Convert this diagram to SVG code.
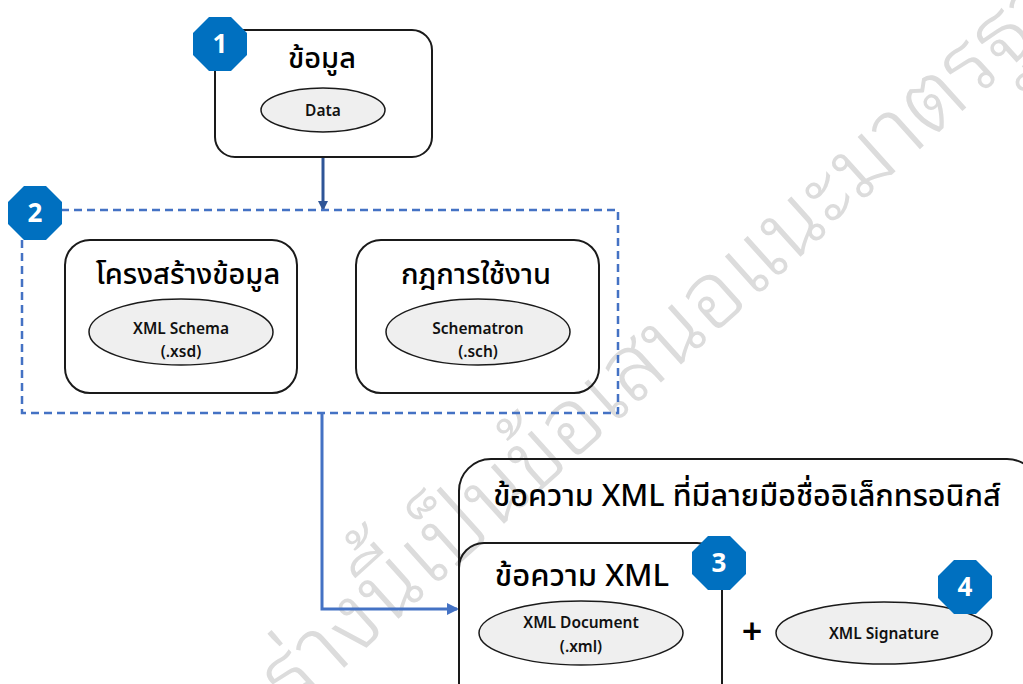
<svg xmlns="http://www.w3.org/2000/svg" width="1023" height="684" viewBox="0 0 1023 684">
<style>
.box{fill:none;stroke:#1a1a1a;stroke-width:2}
.ell{fill:#efefef;stroke:#1a1a1a;stroke-width:1.5}
.title{font-family:"Noto Sans Thai","Noto Sans","Liberation Sans",sans-serif;font-size:29px;font-weight:500;fill:#000;text-anchor:middle}
.lbl{font-family:"Noto Sans","Liberation Sans",sans-serif;font-size:15.5px;font-weight:600;fill:#111;text-anchor:middle}
.badge{fill:#0070c0}
.num{font-family:"Noto Sans","Liberation Sans",sans-serif;font-size:26px;font-weight:700;fill:#fff;text-anchor:middle}
.wm{font-family:"Noto Sans Thai Looped","Noto Serif Thai","Noto Sans Thai","Noto Sans",sans-serif;font-size:92px;font-weight:300;fill:#dcdcdc}
</style>
<defs>
<marker id="ah" markerWidth="10" markerHeight="10" refX="8" refY="5" orient="auto" markerUnits="userSpaceOnUse"><path d="M0,0 L10,5 L0,10 z" fill="#2f5597"/></marker>
<marker id="ah2" markerWidth="12" markerHeight="12" refX="10" refY="6" orient="auto" markerUnits="userSpaceOnUse"><path d="M0,0 L12,6 L0,12 z" fill="#4472c4"/></marker>
<polygon id="oct" points="11,-27 -11,-27 -27,-11 -27,11 -11,27 11,27 27,11 27,-11"/>
</defs>
<rect width="1023" height="684" fill="#fff"/>
<text class="wm" transform="translate(295,712) rotate(-42)">ร่างนี้เป็นข้อเสนอแนะมาตรฐาน</text>

<g id="connectors">
<line x1="323" y1="157" x2="323" y2="209" stroke="#2f5597" stroke-width="3" marker-end="url(#ah)"/>
<polyline points="322,413 322,609 457,609" fill="none" stroke="#4472c4" stroke-width="3" marker-end="url(#ah2)"/>
</g>

<g id="node1">
<rect class="box" x="215" y="30" width="217" height="127" rx="20"/>
<text class="title" x="322" y="68">ข้อมูล</text>
<ellipse class="ell" cx="323" cy="110" rx="62" ry="22"/>
<text class="lbl" x="323" y="116">Data</text>
<use href="#oct" class="badge" x="220" y="44"/>
<text class="num" x="220" y="53">1</text>
</g>

<g id="group2">
<rect x="22" y="210" width="596" height="203" fill="none" stroke="#4472c4" stroke-width="2.5" stroke-dasharray="8,5"/>
<use href="#oct" class="badge" x="35" y="213"/>
<text class="num" x="35" y="222">2</text>
</g>

<g id="schema">
<rect class="box" x="65" y="240" width="232" height="153" rx="25"/>
<text class="title" x="188" y="284">โครงสร้างข้อมูล</text>
<ellipse class="ell" cx="181" cy="332" rx="92" ry="33"/>
<text class="lbl" x="181" y="334">XML Schema</text>
<text class="lbl" x="181" y="357">(.xsd)</text>
</g>

<g id="schematron">
<rect class="box" x="356" y="240" width="243" height="153" rx="25"/>
<text class="title" x="476" y="284">กฎการใช้งาน</text>
<ellipse class="ell" cx="478" cy="332" rx="92" ry="33"/>
<text class="lbl" x="478" y="334">Schematron</text>
<text class="lbl" x="478" y="357">(.sch)</text>
</g>

<g id="signed">
<rect class="box" x="459" y="459" width="580" height="260" rx="32"/>
<text class="title" x="747" y="506" style="font-size:30.5px">ข้อความ XML ที่มีลายมือชื่ออิเล็กทรอนิกส์</text>
</g>

<g id="xmldoc">
<rect class="box" x="459" y="543" width="263" height="170" rx="25"/>
<text class="title" x="582" y="586" style="font-size:31px">ข้อความ XML</text>
<ellipse class="ell" cx="581" cy="633" rx="102" ry="32"/>
<text class="lbl" x="581" y="628">XML Document</text>
<text class="lbl" x="581" y="652">(.xml)</text>
<use href="#oct" class="badge" x="719" y="563"/>
<text class="num" x="719" y="572">3</text>
</g>

<text x="752" y="644" font-family="Noto Sans,Liberation Sans,sans-serif" font-size="36" font-weight="600" text-anchor="middle" fill="#000">+</text>

<g id="signature">
<ellipse class="ell" cx="884" cy="633" rx="108" ry="31"/>
<text class="lbl" x="884" y="639">XML Signature</text>
<use href="#oct" class="badge" x="965" y="587"/>
<text class="num" x="965" y="596">4</text>
</g>
</svg>
